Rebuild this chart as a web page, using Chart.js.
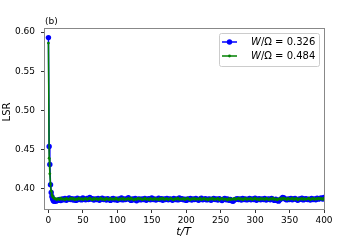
<!DOCTYPE html>
<html lang="en">
<head>
    <meta charset="utf-8">
    <title>LSR vs t/T</title>
    <script src="https://cdn.jsdelivr.net/npm/chart.js@4/dist/chart.umd.min.js"></script>
    <style>
    html, body { margin: 0; padding: 0; background: #fff; }
    #wrap { width: 360px; height: 240px; position: relative; }
    </style>
</head>
<body>
<div id="wrap"><canvas id="c" width="360" height="240"></canvas></div>
<script>
// sampling times t/T
var times = [
    0, 1, 2, 3, 4, 5, 6, 7, 8, 9, 10, 11, 12,
    14, 16, 18, 20, 22, 24, 26, 28, 30, 32,
    34, 36, 38, 40, 42, 44, 46, 48, 50, 52,
    54, 56, 58, 60, 62, 64, 66, 68, 70, 72,
    74, 76, 78, 80, 82, 84, 86, 88, 90, 92,
    94, 96, 98, 100, 102, 104, 106, 108, 110, 112,
    114, 116, 118, 120, 122, 124, 126, 128, 130, 132,
    134, 136, 138, 140, 142, 144, 146, 148, 150, 152,
    154, 156, 158, 160, 162, 164, 166, 168, 170, 172,
    174, 176, 178, 180, 182, 184, 186, 188, 190, 192,
    194, 196, 198, 200, 202, 204, 206, 208, 210, 212,
    214, 216, 218, 220, 222, 224, 226, 228, 230, 232,
    234, 236, 238, 240, 242, 244, 246, 248, 250, 252,
    254, 256, 258, 260, 262, 264, 266, 268, 270, 272,
    274, 276, 278, 280, 282, 284, 286, 288, 290, 292,
    294, 296, 298, 300, 302, 304, 306, 308, 310, 312,
    314, 316, 318, 320, 322, 324, 326, 328, 330, 332,
    334, 336, 338, 340, 342, 344, 346, 348, 350, 352,
    354, 356, 358, 360, 362, 364, 366, 368, 370, 372,
    374, 376, 378, 380, 382, 384, 386, 388, 390, 392,
    394, 396, 398, 400
];
// W/Omega = 0.326
var lsrBlue = [
    0.593, 0.454, 0.431, 0.405, 0.395, 0.390, 0.387, 0.385, 0.384, 0.384, 0.385, 0.384, 0.385,
    0.3850, 0.3862, 0.3848, 0.3870, 0.3858, 0.3875, 0.3852, 0.3868, 0.3880, 0.3860,
    0.3872, 0.3855, 0.3868, 0.3850, 0.3878, 0.3862, 0.3870, 0.3856, 0.3882, 0.3865,
    0.3858, 0.3876, 0.3862, 0.3888, 0.3866, 0.3872, 0.3855, 0.3868, 0.3860, 0.3874,
    0.3852, 0.3866, 0.3878, 0.3860, 0.3870, 0.3854, 0.3872, 0.3863, 0.3850, 0.3868,
    0.3875, 0.3858, 0.3866, 0.3852, 0.3870, 0.3862, 0.3880, 0.3856, 0.3868, 0.3860,
    0.3872, 0.3885, 0.3862, 0.3850, 0.3868, 0.3858, 0.3874, 0.3846, 0.3865, 0.3870,
    0.3856, 0.3868, 0.3860, 0.3876, 0.3852, 0.3866, 0.3872, 0.3858, 0.3880, 0.3862,
    0.3870, 0.3855, 0.3866, 0.3878, 0.3860, 0.3872, 0.3852, 0.3868, 0.3862, 0.3876,
    0.3858, 0.3870, 0.3864, 0.3852, 0.3874, 0.3860, 0.3868, 0.3856, 0.3880, 0.3864,
    0.3872, 0.3858, 0.3866, 0.3850, 0.3870, 0.3862, 0.3876, 0.3855, 0.3868, 0.3860,
    0.3874, 0.3862, 0.3852, 0.3868, 0.3878, 0.3858, 0.3866, 0.3872, 0.3856, 0.3864,
    0.3870, 0.3852, 0.3866, 0.3876, 0.3860, 0.3868, 0.3855, 0.3872, 0.3862, 0.3848,
    0.3866, 0.3874, 0.3858, 0.3868, 0.3852, 0.3862, 0.3846, 0.3838, 0.3855, 0.3866,
    0.3872, 0.3860, 0.3868, 0.3854, 0.3876, 0.3862, 0.3870, 0.3856, 0.3866, 0.3874,
    0.3858, 0.3868, 0.3862, 0.3878, 0.3852, 0.3866, 0.3872, 0.3858, 0.3870, 0.3862,
    0.3876, 0.3855, 0.3866, 0.3870, 0.3858, 0.3874, 0.3862, 0.3850, 0.3866, 0.3848,
    0.3840, 0.3858, 0.3872, 0.3886, 0.3880, 0.3866, 0.3856, 0.3870, 0.3862, 0.3876,
    0.3858, 0.3868, 0.3874, 0.3860, 0.3852, 0.3870, 0.3864, 0.3878, 0.3856, 0.3868,
    0.3872, 0.3860, 0.3866, 0.3854, 0.3876, 0.3862, 0.3870, 0.3858, 0.3878, 0.3866,
    0.3874, 0.3882, 0.3868, 0.3886
];
// W/Omega = 0.484
var lsrGreen = [
    0.586, 0.439, 0.419, 0.406, 0.397, 0.392, 0.390, 0.389, 0.388, 0.387, 0.387, 0.387, 0.386,
    0.3872, 0.3860, 0.3878, 0.3864, 0.3870, 0.3858, 0.3876, 0.3866, 0.3862, 0.3880,
    0.3866, 0.3874, 0.3858, 0.3870, 0.3862, 0.3878, 0.3864, 0.3872, 0.3860, 0.3868,
    0.3876, 0.3862, 0.3870, 0.3880, 0.3866, 0.3858, 0.3874, 0.3864, 0.3872, 0.3860,
    0.3868, 0.3878, 0.3862, 0.3870, 0.3856, 0.3874, 0.3866, 0.3860, 0.3876, 0.3864,
    0.3870, 0.3862, 0.3878, 0.3866, 0.3858, 0.3872, 0.3864, 0.3876, 0.3860, 0.3870,
    0.3864, 0.3874, 0.3862, 0.3878, 0.3866, 0.3856, 0.3870, 0.3862, 0.3876, 0.3868,
    0.3872, 0.3860, 0.3866, 0.3878, 0.3864, 0.3870, 0.3858, 0.3874, 0.3866, 0.3862,
    0.3876, 0.3864, 0.3870, 0.3858, 0.3874, 0.3866, 0.3880, 0.3862, 0.3868, 0.3872,
    0.3860, 0.3870, 0.3876, 0.3864, 0.3858, 0.3872, 0.3866, 0.3878, 0.3862, 0.3870,
    0.3866, 0.3874, 0.3860, 0.3870, 0.3878, 0.3864, 0.3858, 0.3872, 0.3866, 0.3876,
    0.3862, 0.3870, 0.3864, 0.3878, 0.3860, 0.3868, 0.3874, 0.3862, 0.3870, 0.3856,
    0.3872, 0.3866, 0.3878, 0.3860, 0.3870, 0.3864, 0.3876, 0.3858, 0.3868, 0.3874,
    0.3862, 0.3870, 0.3866, 0.3856, 0.3872, 0.3860, 0.3868, 0.3864, 0.3876, 0.3862,
    0.3870, 0.3878, 0.3864, 0.3872, 0.3858, 0.3868, 0.3876, 0.3862, 0.3870, 0.3866,
    0.3874, 0.3860, 0.3870, 0.3878, 0.3864, 0.3868, 0.3858, 0.3874, 0.3866, 0.3872,
    0.3862, 0.3876, 0.3868, 0.3860, 0.3872, 0.3866, 0.3878, 0.3862, 0.3870, 0.3858,
    0.3866, 0.3874, 0.3862, 0.3880, 0.3868, 0.3872, 0.3860, 0.3876, 0.3864, 0.3870,
    0.3878, 0.3862, 0.3868, 0.3874, 0.3858, 0.3870, 0.3866, 0.3876, 0.3862, 0.3872,
    0.3864, 0.3870, 0.3878, 0.3860, 0.3868, 0.3874, 0.3862, 0.3872, 0.3866, 0.3878,
    0.3868, 0.3874, 0.3862, 0.3876
];
var seriesLabels = ["W/\u03a9 = 0.326", "W/\u03a9 = 0.484"];
var xTicks = [0, 50, 100, 150, 200, 250, 300, 350, 400];
var yTicks = [0.40, 0.45, 0.50, 0.55, 0.60];

function points(ys) {
    var out = [];
    for (var i = 0; i < times.length; i++) out.push({ x: times[i], y: ys[i] });
    return out;
}

var FONT = "'DejaVu Sans', sans-serif";

// draws "W" italic, rest upright
function mathLabel(ctx, text, x, y, size) {
    ctx.font = "italic " + size + "px " + FONT;
    ctx.fillText(text[0], x, y);
    x += ctx.measureText(text[0]).width;
    ctx.font = size + "px " + FONT;
    ctx.fillText(text.slice(1), x, y);
}

var decor = {
    id: 'decor',
    afterDraw: function(chart) {
        var ctx = chart.ctx, a = chart.chartArea;
        ctx.save();
        // frame
        ctx.strokeStyle = '#888888';
        ctx.lineWidth = 1;
        ctx.strokeRect(a.left - 0.5, a.top - 0.5, a.right - a.left + 1, a.bottom - a.top + 1);
        ctx.fillStyle = '#000';
        ctx.textBaseline = 'alphabetic';
        // panel tag
        ctx.font = "9px " + FONT;
        ctx.textAlign = 'left';
        ctx.fillText("(b)", a.left, a.top - 5);
        // x title
        ctx.font = "italic 11px " + FONT;
        ctx.textAlign = 'center';
        ctx.fillText("t/T", (a.left + a.right) / 2 - 1, 235);
        // y title
        ctx.save();
        ctx.translate(10, 112);
        ctx.rotate(-Math.PI / 2);
        ctx.font = "10px " + FONT;
        ctx.fillText("LSR", 0, 0);
        ctx.restore();
        // legend
        var bx = 219, by = 33, bw = 100, bh = 33;
        ctx.fillStyle = 'rgba(255,255,255,0.85)';
        ctx.strokeStyle = '#cccccc';
        ctx.beginPath();
        ctx.roundRect(bx + 0.5, by + 0.5, bw, bh, 2);
        ctx.fill();
        ctx.stroke();
        var rows = [42, 56];
        chart.data.datasets.forEach(function(ds, i) {
            var y = rows[i];
            ctx.strokeStyle = ds.borderColor;
            ctx.lineWidth = 1.5;
            ctx.beginPath();
            ctx.moveTo(222, y);
            ctx.lineTo(237, y);
            ctx.stroke();
            ctx.fillStyle = ds.backgroundColor;
            ctx.beginPath();
            ctx.arc(229.5, y, ds.pointRadius, 0, Math.PI * 2);
            ctx.fill();
            ctx.fillStyle = '#000';
            ctx.textAlign = 'left';
            ctx.textBaseline = 'middle';
            mathLabel(ctx, ds.label, 251, y + 0.5, 10);
        });
        ctx.restore();
    }
};

new Chart(document.getElementById('c'), {
    type: 'line',
    data: {
        datasets: [{
            label: seriesLabels[0],
            data: points(lsrBlue),
            borderColor: '#0000ff',
            backgroundColor: '#0000ff',
            borderWidth: 1.5,
            pointRadius: 2.7,
            pointBorderWidth: 0,
            tension: 0,
            order: 2
        }, {
            label: seriesLabels[1],
            data: points(lsrGreen),
            borderColor: '#008000',
            backgroundColor: '#008000',
            borderWidth: 1.5,
            pointRadius: 1.4,
            pointBorderWidth: 0,
            tension: 0,
            order: 1
        }]
    },
    options: {
        responsive: false,
        animation: false,
        events: [],
        layout: { padding: { left: 0, right: 36, top: 29, bottom: 0 } },
        plugins: { legend: { display: false }, tooltip: { enabled: false } },
        scales: {
            x: {
                type: 'linear',
                min: -5,
                max: 400,
                afterFit: function(s) { s.height = 31; },
                afterBuildTicks: function(s) { s.ticks = xTicks.map(function(v) { return { value: v }; }); },
                grid: { drawOnChartArea: false, drawTicks: true, tickLength: 4, tickWidth: 1, color: '#333' },
                border: { display: false },
                ticks: { color: '#000', padding: 2, maxRotation: 0, font: { family: FONT, size: 9 } }
            },
            y: {
                min: 0.374,
                max: 0.604,
                afterFit: function(s) { s.width = 45; },
                afterBuildTicks: function(s) { s.ticks = yTicks.map(function(v) { return { value: v }; }); },
                grid: { drawOnChartArea: false, drawTicks: true, tickLength: 4, tickWidth: 1, color: '#333' },
                border: { display: false },
                ticks: {
                    color: '#000', padding: 6, font: { family: FONT, size: 9 },
                    callback: function(v) { return v.toFixed(2); }
                }
            }
        }
    },
    plugins: [decor]
});
</script>
</body>
</html>
